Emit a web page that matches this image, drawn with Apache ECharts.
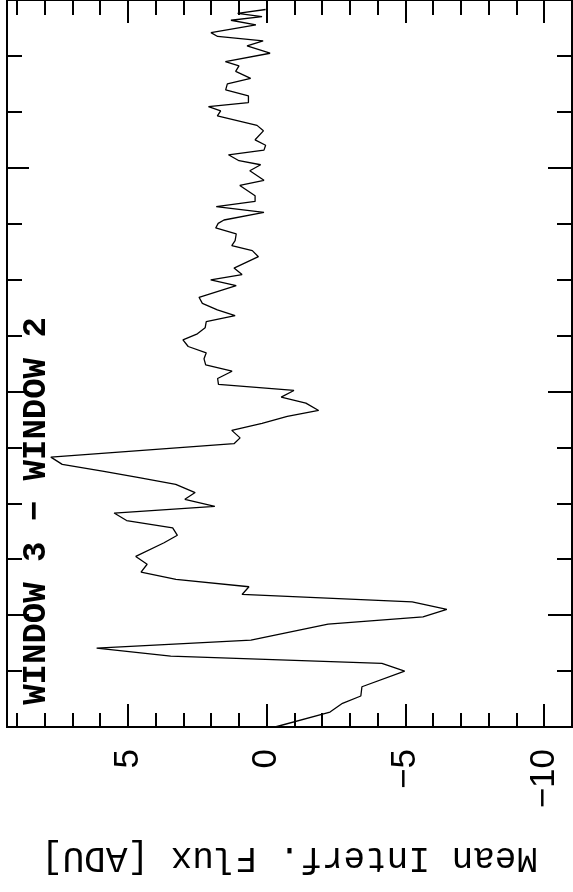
<!DOCTYPE html>
<html>
<head>
<meta charset="utf-8">
<script src="https://cdn.jsdelivr.net/npm/echarts@6/dist/echarts.min.js"></script>
<style>
html,body{margin:0;padding:0;background:#fff;}
#chart{width:573px;height:892px;}
</style>
</head>
<body>
<div id="chart"></div>
<script>
// Position along the (unlabelled) dispersion axis, bottom to top
const xCoord = [7.000,7.134,7.212,7.277,7.360,7.500,7.569,7.634,7.705,7.777,7.920,7.985,8.051,8.119,8.185,8.254,8.320,8.384,8.455,8.525,8.647,8.714,8.781,8.846,8.913,8.973,9.036,9.096,9.170,9.229,9.288,9.348,9.413,9.533,9.585,9.652,9.714,9.777,9.830,9.896,9.949,10.009,10.063,10.116,10.181,10.237,10.292,10.346,10.402,10.462,10.515,10.569,10.625,10.679,10.729,10.788,10.842,10.946,10.997,11.045,11.103,11.205,11.259,11.304,11.348,11.408,11.462,11.503,11.533,11.601,11.652,11.699,11.750,11.842,11.888,11.973,12.027,12.063,12.116,12.158,12.201,12.250,12.330,12.379,12.464,12.509,12.547,12.583,12.643,12.696,12.750,12.799,12.862,12.911,12.949,13.024,13.089,13.134,13.174,13.208,13.277,13.319,13.351,13.381,13.415];
// Mean interferometric flux [ADU]
const flux = [-0.30,-2.28,-2.73,-3.39,-3.43,-4.97,-4.15,3.46,6.13,0.57,-2.21,-5.63,-6.49,-5.24,0.89,0.64,3.27,4.53,4.31,4.72,3.70,3.22,3.39,5.05,5.50,1.87,2.95,2.58,3.28,4.60,5.92,7.37,7.78,1.18,0.96,1.26,0.17,-0.74,-1.87,-1.41,-0.52,-0.98,1.74,1.77,1.25,2.20,2.26,2.18,2.83,3.02,2.50,2.22,2.18,1.14,1.78,2.32,2.44,1.10,2.02,0.89,1.18,0.30,0.52,1.26,1.14,1.10,1.84,1.75,1.54,0.10,1.82,0.42,0.42,0.97,0.10,0.61,0.22,1.00,1.38,0.10,0.04,0.42,0.12,0.35,1.78,1.66,2.10,0.66,0.66,1.48,1.42,0.58,1.12,1.00,1.49,-0.12,0.71,0.13,1.77,2.01,0.39,1.29,0.17,1.05,0.04];

const fluxMajorTicks = [-10,-5,0,5];
const fluxMinorTicks = [-10,-9,-8,-7,-6,-5,-4,-3,-2,-1,0,1,2,3,4,5,6,7,8,9];
const xMajorTicks = [8,10,12];
const xMinorTicks = [7.5,8,8.5,9,9.5,10,10.5,11,11.5,12,12.5,13];
const titleText = 'WINDOW 3 \u2212 WINDOW 2';
const fluxAxisName = 'Mean Interf. Flux [ADU]';

const FLUX_MIN = -11, FLUX_MAX = 9.36, X_MIN = 7, X_MAX = 13.5;
const black = '#000';

function fluxAxis(position, ticks, len, showLabels, showName) {
  return {
    type: 'value', position: position, inverse: true,
    min: FLUX_MIN, max: FLUX_MAX,
    axisLine: {show: true, onZero: false, lineStyle: {color: black, width: 2}},
    axisTick: {show: true, inside: true, length: len, customValues: ticks, lineStyle: {color: black, width: 2}},
    axisLabel: showLabels ? {
      show: true, customValues: fluxMajorTicks, rotate: 90, margin: 22,
      color: black, fontFamily: 'Liberation Sans', fontSize: 35,
      formatter: v => v < 0 ? '\u2212' + Math.abs(v) : String(v)
    } : {show: false},
    splitLine: {show: false},
    name: showName ? fluxAxisName : '',
    nameLocation: 'middle', nameGap: 131, nameRotate: 180,
    nameTextStyle: {color: black, fontFamily: 'Liberation Mono', fontSize: 36, verticalAlign: 'middle'}
  };
}
function posAxis(position, ticks, len) {
  return {
    type: 'value', position: position, min: X_MIN, max: X_MAX,
    axisLine: {show: true, onZero: false, lineStyle: {color: black, width: 2}},
    axisTick: {show: true, inside: true, length: len, customValues: ticks, lineStyle: {color: black, width: 2}},
    axisLabel: {show: false}, splitLine: {show: false}
  };
}

const chart = echarts.init(document.getElementById('chart'), null, {renderer: 'canvas'});
chart.setOption({
  animation: false,
  backgroundColor: '#fff',
  grid: {left: 7, right: 1, top: 0, bottom: 165, containLabel: false, outerBoundsMode: 'none'},
  xAxis: [
    fluxAxis('bottom', fluxMajorTicks, 23, true, true),
    fluxAxis('bottom', fluxMinorTicks, 14, false, false),
    fluxAxis('top', fluxMajorTicks, 23, false, false),
    fluxAxis('top', fluxMinorTicks, 15, false, false)
  ],
  yAxis: [
    posAxis('left', xMajorTicks, 22),
    posAxis('left', xMinorTicks, 15),
    posAxis('right', xMajorTicks, 24),
    posAxis('right', xMinorTicks, 15)
  ],
  graphic: [{
    type: 'text', x: 36.5, y: 511, rotation: Math.PI / 2,
    style: {text: titleText, fill: black, font: 'bold 34px "Liberation Mono"', align: 'center', verticalAlign: 'middle'}
  }],
  series: [{
    type: 'line', xAxisIndex: 0, yAxisIndex: 0,
    data: flux.map((f, i) => [f, xCoord[i]]),
    showSymbol: false, symbol: 'none', smooth: false,
    lineStyle: {color: black, width: 1.3}
  }]
});
</script>
</body>
</html>
